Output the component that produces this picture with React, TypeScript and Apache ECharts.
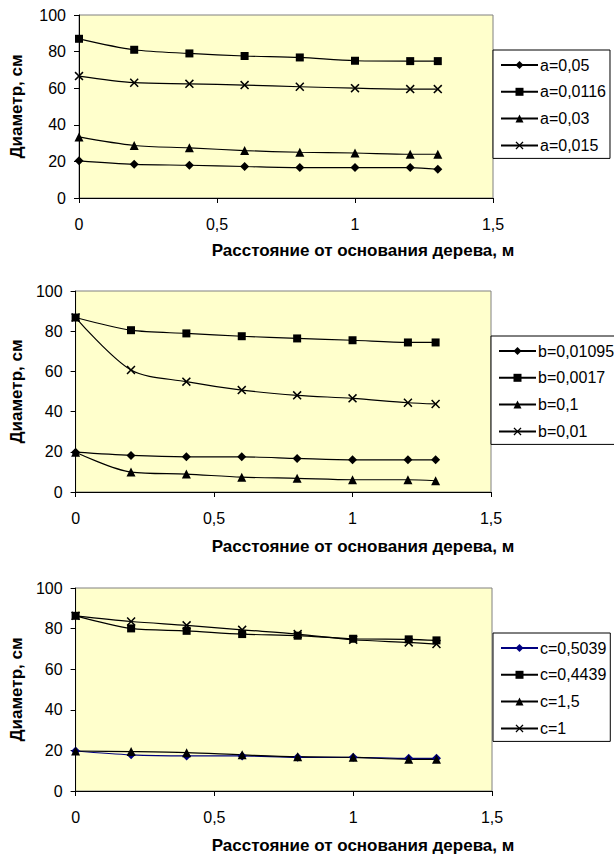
import React, { useEffect, useRef } from "react";
import * as echarts from "echarts";

// Distance from the tree base, m
const xValues = [0, 0.2, 0.4, 0.6, 0.8, 1.0, 1.2, 1.3];

// Chart 1 (parameter a)
const namesA = ["a=0,05", "a=0,0116", "a=0,03", "a=0,015"];
const a005 = [20.3, 18.4, 17.9, 17.2, 16.6, 16.6, 16.6, 15.7];
const a00116 = [87, 81, 79, 77.6, 76.8, 75, 74.8, 74.8];
const a003 = [33.4, 28.7, 27.4, 25.9, 25, 24.6, 23.9, 23.9];
const a0015 = [66.6, 63, 62.4, 61.7, 60.8, 60, 59.5, 59.5];

// Chart 2 (parameter b)
const namesB = ["b=0,01095", "b=0,0017", "b=0,1", "b=0,01"];
const b001095 = [19.8, 18.2, 17.5, 17.5, 16.7, 16, 16, 16];
const b00017 = [86.8, 80.5, 78.9, 77.5, 76.4, 75.5, 74.4, 74.4];
const b01 = [19.8, 9.9, 8.9, 7.4, 6.8, 6.1, 6.1, 5.6];
const b001 = [86.8, 60.7, 54.9, 50.7, 48.1, 46.6, 44.4, 43.8];

// Chart 3 (parameter c)
const namesC = ["c=0,5039", "c=0,4439", "c=1,5", "c=1"];
const c05039 = [19.7, 17.8, 17.3, 17.3, 16.6, 16.6, 16.1, 16.1];
const c04439 = [86.3, 80.1, 78.9, 77.3, 76.5, 75, 74.7, 74.2];
const c15 = [19.7, 19.4, 18.9, 17.8, 16.9, 16.6, 15.6, 15.6];
const c1 = [86.3, 83.5, 81.6, 79.4, 77.3, 74.5, 73.2, 72.4];

const yTitle = "Диаметр, см";
const xTitle = "Расстояние от основания дерева, м";

const FONT = '"Liberation Sans", Arial, sans-serif';
const CROSS = "path://M0,1.2 L1.2,0 L5,3.8 L8.8,0 L10,1.2 L6.2,5 L10,8.8 L8.8,10 L5,6.2 L1.2,10 L0,8.8 L3.8,5 Z";
const symbols = ["diamond", "rect", "triangle", CROSS];
const symbolSizes = [9, 8, 9, 9];

const grids = [
  { left: 77, top: 15, width: 416, height: 183 },
  { left: 73, top: 291, width: 418, height: 201 },
  { left: 72, top: 588, width: 420, height: 203 },
];
const yNameGaps = [54, 50, 49];
const legendPos = [
  { left: 493, top: 50 },
  { left: 491, top: 336 },
  { left: 493, top: 633 },
];
const xTitleY = [250, 546, 845];

function buildOption() {
  const seriesSets = [
    { names: namesA, data: [a005, a00116, a003, a0015], colors: ["#000", "#000", "#000", "#000"] },
    { names: namesB, data: [b001095, b00017, b01, b001], colors: ["#000", "#000", "#000", "#000"] },
    { names: namesC, data: [c05039, c04439, c15, c1], colors: ["#000080", "#000", "#000", "#000"] },
  ];
  const series: any[] = [];
  seriesSets.forEach((set, gi) => {
    set.names.forEach((name, si) => {
      series.push({
        type: "line",
        name,
        xAxisIndex: gi,
        yAxisIndex: gi,
        data: xValues.map((x, i) => [x, set.data[si][i]]),
        smooth: 0.3,
        symbol: symbols[si],
        symbolSize: symbolSizes[si],
        showAllSymbol: true,
        color: set.colors[si],
        lineStyle: { color: set.colors[si], width: 1.2 },
        itemStyle: { color: set.colors[si] },
        emphasis: { disabled: true },
      });
    });
  });

  return {
    animation: false,
    backgroundColor: "#fff",
    textStyle: { fontFamily: FONT },
    grid: grids.map((g) => ({
      ...g,
      show: true,
      backgroundColor: "#FFFFCC",
      borderColor: "#808080",
      borderWidth: 1,
      containLabel: false,
    })),
    xAxis: grids.map((_, i) => ({
      type: "value",
      gridIndex: i,
      min: 0,
      max: 1.5,
      interval: 0.5,
      splitLine: { show: false },
      axisLine: { show: true, onZero: false, lineStyle: { color: "#000", width: 1 } },
      axisTick: { show: true, inside: false, length: 5, lineStyle: { color: "#000" } },
      axisLabel: {
        color: "#000",
        fontSize: 16,
        fontFamily: FONT,
        margin: 18,
        formatter: (v: number) => String(v).replace(".", ","),
      },
    })),
    yAxis: grids.map((_, i) => ({
      type: "value",
      gridIndex: i,
      min: 0,
      max: 100,
      interval: 20,
      splitLine: { show: false },
      axisLine: { show: true, lineStyle: { color: "#000", width: 1 } },
      axisTick: { show: true, inside: false, length: 5, lineStyle: { color: "#000" } },
      axisLabel: { color: "#000", fontSize: 16, fontFamily: FONT, margin: 13 },
      name: yTitle,
      nameLocation: "middle",
      nameRotate: 90,
      nameGap: yNameGaps[i],
      nameTextStyle: { color: "#000", fontSize: 17, fontWeight: "bold", fontFamily: FONT },
    })),
    legend: [namesA, namesB, namesC].map((names, i) => ({
      data: names,
      orient: "vertical",
      left: legendPos[i].left,
      top: legendPos[i].top,
      itemWidth: 37,
      itemHeight: 10,
      itemGap: 10.8,
      padding: [7, 4, 5, 7],
      backgroundColor: "#fff",
      borderColor: "#000",
      borderWidth: 1,
      borderRadius: 0,
      selectedMode: false,
      textStyle: { color: "#000", fontSize: 16, fontFamily: FONT, padding: [0, 0, 0, -3] },
    })),
    graphic: xTitleY.map((y) => ({
      type: "text",
      x: 363,
      y,
      silent: true,
      style: {
        text: xTitle,
        fill: "#000",
        fontSize: 17,
        fontWeight: "bold",
        fontFamily: FONT,
        align: "center",
        verticalAlign: "middle",
      },
    })),
    series,
  };
}

export default function App() {
  const ref = useRef<HTMLDivElement>(null);
  useEffect(() => {
    if (!ref.current) return;
    const chart = echarts.init(ref.current, null, { renderer: "svg" });
    chart.setOption(buildOption() as any);
    return () => {
      chart.dispose();
    };
  }, []);
  return (
    <div
      ref={ref}
      style={{ position: "absolute", left: 0, top: 0, width: 614, height: 857, overflow: "hidden" }}
    />
  );
}
